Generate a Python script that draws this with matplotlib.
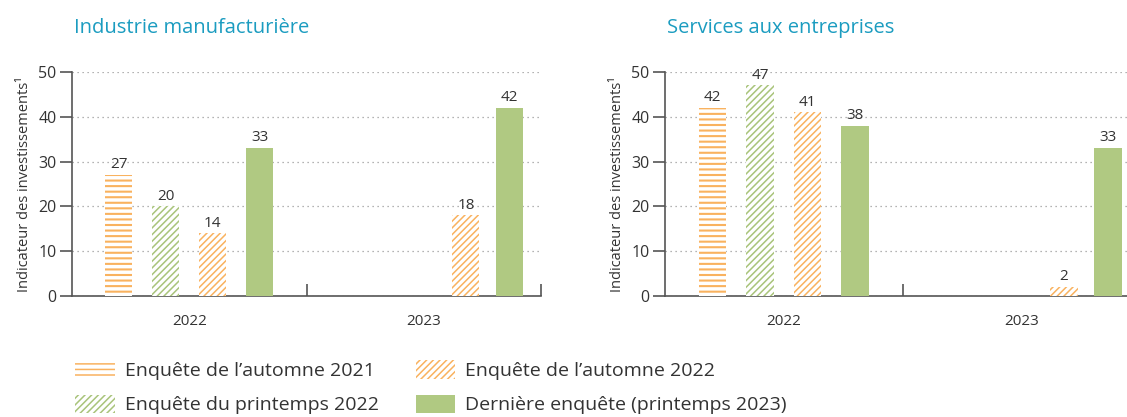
import matplotlib.pyplot as plt
import matplotlib as mpl
import numpy as np
from matplotlib.patches import Patch

plt.rcParams['font.family'] = ['Open Sans', 'DejaVu Sans']
plt.rcParams['hatch.linewidth'] = 1.1

# Data
years = ['2022', '2023']
series_names = ['Enquête de l’automne 2021', 'Enquête du printemps 2022',
                'Enquête de l’automne 2022', 'Dernière enquête (printemps 2023)']
industrie = {
    'autumn_2021': [27, np.nan],
    'spring_2022': [20, np.nan],
    'autumn_2022': [14, 18],
    'latest': [33, 42],
}
services = {
    'autumn_2021': [42, np.nan],
    'spring_2022': [47, np.nan],
    'autumn_2022': [41, 2],
    'latest': [38, 33],
}
panel_titles = ['Industrie manufacturière', 'Services aux entreprises']
ylabel = 'Indicateur des investissements¹'

# Styles
orange = '#f9b25f'
green_hatch = '#a9c47a'
green = '#b0c982'
title_col = '#1b9cc0'
text_col = '#333333'
styles = {
    'autumn_2021': dict(facecolor='white', edgecolor=orange, hatch='---', linewidth=0),
    'spring_2022': dict(facecolor='white', edgecolor=green_hatch, hatch='/////', linewidth=0),
    'autumn_2022': dict(facecolor='white', edgecolor=orange, hatch='/////', linewidth=0),
    'latest': dict(facecolor=green, edgecolor=green, linewidth=0),
}
hatch_lw = {'autumn_2021': 1.5}
# bar positions within each year slot (slot = 1 unit wide)
offsets = [[0.2, 0.4, 0.6, 0.8], [None, None, 1.68, 1.865]]
bar_w = 0.115

fig = plt.figure(figsize=(11.27, 4.17), dpi=100)
W, H = 1127, 417
ax_boxes = [(72, 541), (665, 1140)]
y0_px, y50_px = 296, 72


def draw_panel(ax, data, title):
    keys = list(styles.keys())
    for gi in range(len(years)):
        for si, key in enumerate(keys):
            v = data[key][gi]
            pos = offsets[gi][si]
            if pos is None or np.isnan(v):
                continue
            with mpl.rc_context({'hatch.linewidth': hatch_lw.get(key, 1.1)}):
                ax.bar(pos, v, width=bar_w, zorder=3, **styles[key])
            ax.annotate(f'{v:.0f}', (pos, v), xytext=(0, 2), textcoords='offset points',
                        ha='center', va='bottom', fontsize=11, color=text_col)
    ax.set_xlim(0, 2)
    ax.set_ylim(0, 50)
    ax.set_yticks(np.arange(0, 51, 10))
    ax.set_xticks([1, 2])
    ax.set_xticklabels([])
    ax.set_xticks([0.5, 1.5], minor=True)
    ax.set_xticklabels(years, minor=True)
    ax.tick_params(axis='x', which='major', direction='in', length=9, width=1.2, color='#555555')
    ax.tick_params(axis='x', which='minor', length=0, pad=13, labelsize=11, labelcolor=text_col)
    ax.tick_params(axis='y', length=9, width=1.2, color='#555555', labelsize=11.5,
                   labelcolor=text_col, pad=2)
    for s in ['top', 'right']:
        ax.spines[s].set_visible(False)
    for s in ['left', 'bottom']:
        ax.spines[s].set_color('#555555')
        ax.spines[s].set_linewidth(1.2)
    ax.yaxis.grid(True, color='#9a9a9a', linestyle=(0, (1, 3)), linewidth=0.9, zorder=0)
    ax.set_axisbelow(True)
    ax.set_ylabel(ylabel, fontsize=10.5, color=text_col, labelpad=5)
    ax.set_title(title, loc='left', fontsize=14.5, color=title_col, pad=28, x=0.005)


for (x0, x1), data, title in zip(ax_boxes, [industrie, services], panel_titles):
    ax = fig.add_axes([x0 / W, 1 - y0_px / H, (x1 - x0) / W, (y0_px - y50_px) / H])
    draw_panel(ax, data, title)

handles = []
for name, key in zip(series_names, styles.keys()):
    with mpl.rc_context({'hatch.linewidth': hatch_lw.get(key, 1.1)}):
        handles.append(Patch(label=name, **styles[key]))
fig.legend(handles=handles, ncol=2, loc='upper left', bbox_to_anchor=(75 / W, 1 - 360 / H),
           frameon=False, fontsize=14, handlelength=2.05, handleheight=1.1,
           handletextpad=0.5, labelspacing=0.75, columnspacing=1.9,
           borderpad=0, borderaxespad=0, labelcolor=text_col)

fig.savefig('out.png', dpi=100)
